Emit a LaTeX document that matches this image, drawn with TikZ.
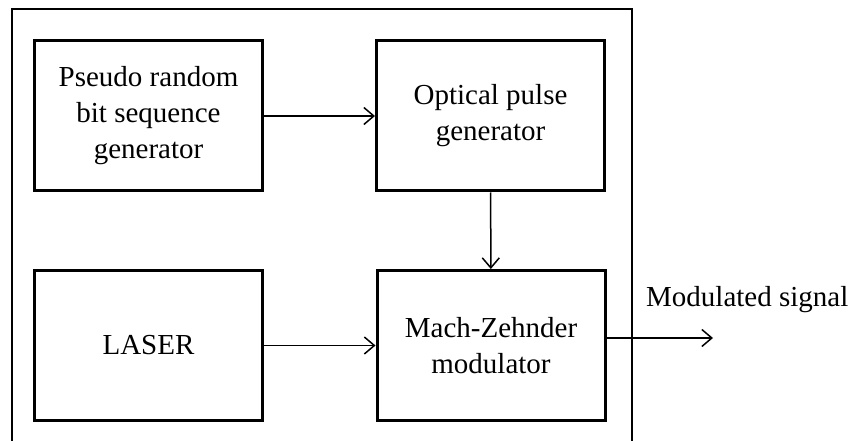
\documentclass[tikz,border=0pt]{standalone}
\usepackage{fontspec}
\setmainfont{Liberation Serif}
\usetikzlibrary{arrows.meta}
\begin{document}
\begin{tikzpicture}[x=1pt,y=-1pt,
  blk/.style={draw, line width=3pt, minimum width=228pt, minimum height=150pt, inner sep=0pt,
    align=center, font=\fontsize{29}{36}\selectfont},
  arr/.style={line width=1.5pt, -{Straight Barb[length=10pt,width=17pt,line width=1.5pt]}},
  frame/.style={line width=2pt}]
\useasboundingbox (0,0) rectangle (855,441);
\draw[frame] (12,441) -- (12,9) -- (632,9) -- (632,441);
\node[blk] (prbs) at (148.5,116) {Pseudo random\\bit sequence\\generator};
\node[blk] (opg) at (490.5,116) {Optical pulse\\generator};
\node[blk] (laser) at (148.5,345.5) {LASER};
\node[blk] (mzm) at (491,345.5) {Mach-Zehnder\\modulator};
\coordinate (out) at (713,338);
\draw[arr] (prbs) -- (opg);
\draw[arr] (opg) -- (mzm);
\draw[arr] (laser) -- (mzm);
\draw[arr] (mzm.east |- out) -- (out);
\node[anchor=west, inner sep=0pt, font=\fontsize{29}{36}\selectfont] (lbl) at (646,300) {Modulated signal};
\end{tikzpicture}
\end{document}
